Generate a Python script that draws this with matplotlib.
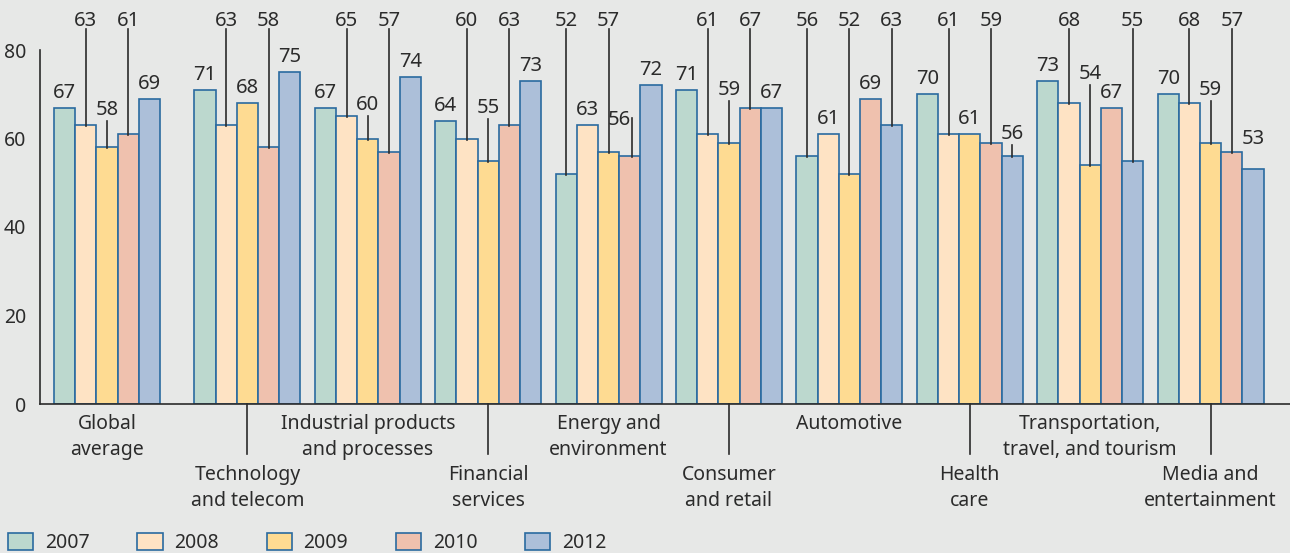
import matplotlib.pyplot as plt
import numpy as np
from matplotlib.patches import Patch

plt.rcParams['font.family'] = ['Noto Sans', 'DejaVu Sans']

# data
categories = ["Global\naverage", "Technology\nand telecom", "Industrial products\nand processes",
              "Financial\nservices", "Energy and\nenvironment", "Consumer\nand retail",
              "Automotive", "Health\ncare", "Transportation,\ntravel, and tourism",
              "Media and\nentertainment"]
years = ["2007", "2008", "2009", "2010", "2012"]
v2007 = [67, 71, 67, 64, 52, 71, 56, 70, 73, 70]
v2008 = [63, 63, 65, 60, 63, 61, 61, 61, 68, 68]
v2009 = [58, 68, 60, 55, 57, 59, 52, 61, 54, 59]
v2010 = [61, 58, 57, 63, 56, 67, 69, 59, 67, 57]
v2012 = [69, 75, 74, 73, 72, 67, 63, 56, 55, 53]
series = [v2007, v2008, v2009, v2010, v2012]

# styling
face_colors = ['#bcd8ce', '#fee3c4', '#fedb92', '#efc1ae', '#acbfd9']
edge_color = '#2a6aa0'
bg = '#e7e8e7'
txt = '#2b2b2b'

# label placement: 'a' = just above the bar, 't' = top row with leader line,
# a number = raised label (centre height in data units) with a short leader
place = [
    ['a', 't', 67.0, 't', 'a'],
    ['a', 't', 'a', 't', 'a'],
    ['a', 't', 68.1, 't', 'a'],
    ['a', 't', 67.4, 't', 'a'],
    ['t', 'a', 't', 64.7, 'a'],
    ['a', 't', 71.5, 't', 'a'],
    ['t', 'a', 't', 'a', 't'],
    ['a', 't', 'a', 't', 61.5],
    ['a', 't', 75.1, 'a', 't'],
    ['a', 't', 71.5, 't', 60.4],
]
no_line = {(9, 4)}
left_label = {(4, 3)}

n = len(categories)
group_x = np.arange(n) + np.where(np.arange(n) > 0, 0.166, 0.0)
bw = 0.176

fig = plt.figure(figsize=(12.9, 5.53), dpi=100, facecolor=bg)
ax = fig.add_axes([40 / 1290, 149 / 553, 1250 / 1290, 354 / 553])
ax.set_facecolor(bg)

for s, vals in enumerate(series):
    xs = group_x + (s - 2) * bw
    ax.bar(xs, vals, width=bw, color=face_colors[s], edgecolor=edge_color, linewidth=1.2, zorder=2)

PX = 80 / 354.0  # data units per pixel (vertical)
fs = 14
top_c = 86.9
for g in range(n):
    for s in range(5):
        v = series[s][g]
        x = group_x[g] + (s - 2) * bw
        p = place[g][s]
        if p == 'a':
            c = v + 17 * PX
            ax.text(x, c - 7 * PX, str(v), ha='center', va='baseline', fontsize=fs + 0.5, color=txt, clip_on=False)
        elif p == 't':
            c = top_c
            ax.text(x, c - 7 * PX, str(v), ha='center', va='baseline', fontsize=fs + 0.5, color=txt, clip_on=False)
            ax.plot([x, x], [c - 10 * PX, v - 1 * PX], color=txt, lw=1.2, clip_on=False, zorder=3)
        else:
            c = p
            if (g, s) in left_label:
                ax.text(x + 0.01, c - 7 * PX, str(v), ha='right', va='baseline', fontsize=fs + 0.5, color=txt, clip_on=False)
                ax.plot([x + 0.02, x + 0.02], [c, v - 1 * PX], color=txt, lw=1.2, clip_on=False, zorder=3)
            else:
                ax.text(x, c - 7 * PX, str(v), ha='center', va='baseline', fontsize=fs + 0.5, color=txt, clip_on=False)
                if (g, s) not in no_line:
                    ax.plot([x, x], [c - 13 * PX, v - 1 * PX], color=txt, lw=1.2, clip_on=False, zorder=3)

# category labels, alternating rows
for g in range(n):
    if g % 2 == 0:
        ax.text(group_x[g], -10 * PX, categories[g], ha='center', va='top', fontsize=fs,
                color=txt, linespacing=1.37, clip_on=False)
    else:
        ax.plot([group_x[g]] * 2, [0, -50 * PX], color=txt, lw=1.2, clip_on=False)
        ax.text(group_x[g], -61 * PX, categories[g], ha='center', va='top', fontsize=fs,
                color=txt, linespacing=1.37, clip_on=False)

ax.set_ylim(0, 80)
ax.set_xlim(-67 / 120.4, (1290 - 107) / 120.4)
ax.set_yticks([0, 20, 40, 60, 80])
ax.tick_params(axis='y', length=0, pad=10, labelsize=fs, labelcolor=txt)
ax.set_xticks([])
for sp in ['top', 'right']:
    ax.spines[sp].set_visible(False)
ax.spines['left'].set_color(txt)
ax.spines['bottom'].set_color(txt)
ax.spines['left'].set_linewidth(1.2)
ax.spines['bottom'].set_linewidth(1.2)

handles = [Patch(facecolor=face_colors[i], edgecolor=edge_color, linewidth=1.2, label=years[i]) for i in range(5)]
fig.legend(handles=handles, loc='lower left', bbox_to_anchor=(8 / 1290, 0.0), ncol=5, frameon=False,
           fontsize=fs, handlelength=1.3, handleheight=0.95, handletextpad=0.6, columnspacing=2.45,
           borderpad=0.0, borderaxespad=0.0, labelcolor=txt)

fig.savefig('out.png', dpi=100, facecolor=bg)
